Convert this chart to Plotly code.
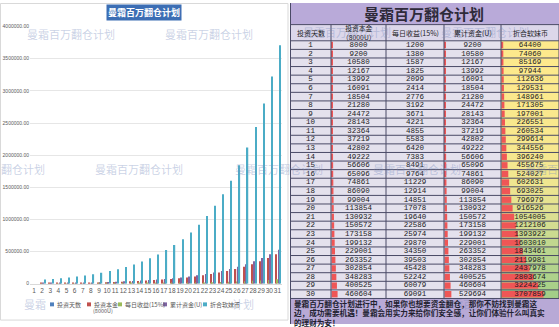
import plotly.graph_objects as go

# ---------------- data ----------------
days = [1, 2, 3, 4, 5, 6, 7, 8, 9, 10, 11, 12, 13, 14, 15,
        16, 17, 18, 19, 20, 21, 22, 23, 24, 25, 26, 27, 28, 29, 30]
principal = [8000, 9200, 10580, 12167, 13992, 16091, 18504, 21280, 24472, 28143,
             32364, 37219, 42802, 49222, 56606, 65096, 74861, 86090, 99004, 113854,
             130932, 150572, 173158, 199132, 229001, 263352, 302854, 348283, 400525, 460604]
daily = [1200, 1380, 1587, 1825, 2099, 2414, 2776, 3192, 3671, 4221,
         4855, 5583, 6420, 7383, 8491, 9764, 11229, 12914, 14851, 17078,
         19640, 22586, 25974, 29870, 34350, 39503, 45428, 52242, 60079, 69091]
cumulative = [9200, 10580, 12167, 13992, 16091, 18504, 21280, 24472, 28143, 32364,
              37219, 42802, 49222, 56606, 65096, 74861, 86090, 99004, 113854, 130932,
              150572, 173158, 199132, 229001, 263352, 302854, 348283, 400525, 460604, 529694]
rmb = [64400, 74060, 85169, 97944, 112636, 129531, 148961, 171305, 197001, 226551,
       260534, 299614, 344556, 396240, 455675, 524027, 602631, 693025, 796979, 916526,
       1054005, 1212106, 1393922, 1603010, 1843461, 2119981, 2437978, 2803674, 3224225, 3707859]

x_labels = ['1', '2', '3', '4', '5', '6', '7', '8', '9', '10', '11', '12', '13', '14', '15', '16',
            '17', '18', '19', '20', '21', '22', '23', '24', '25', '26', '27', '28', '29', '30', '31']
y_tickvals = [0, 500000, 1000000, 1500000, 2000000, 2500000, 3000000, 3500000, 4000000]
y_ticktext = ['0', '500000.00', '1000000.00', '1500000.00', '2000000.00',
              '2500000.00', '3000000.00', '3500000.00', '4000000.00']
legend_names = ['投资天数', '投资本金', '每日收益(15%)', '累计资金(U)', '折合软妹币']
legend_sub = ['', '(8000U)', '', '', '']
table_headers = ['投资天数', '投资本金<br>（8000U）', '每日收益(15%)', '累计资金(U)', '折合软妹币']
title_text = '曼霜百万翻仓计划'
footer_lines = ['曼霜百万翻仓计划进行中，如果你也想要资金翻仓，那你不妨找到曼霜这',
                '边，成功需要机遇！曼霜会用实力来给你们安全感，让你们体验什么叫真实',
                '的理财为安！']

# ---------------- layout helpers ----------------
W, H = 559, 327
def px(x):
    return x / W
def py(y):
    return 1 - y / H

CJK = 'Noto Sans CJK SC'
colors = ['#4f81bd', '#c0504d', '#9bbb59', '#8064a2', '#4bacc6']

fig = go.Figure()

# ---------------- bar chart ----------------
chart_series = [days, principal, daily, cumulative, rmb]
for name, vals, c in zip(legend_names, chart_series, colors):
    fig.add_trace(go.Bar(x=x_labels, y=[None] + vals, name=name, marker_color=c,
                         marker_line_width=0, xaxis='x', yaxis='y', hoverinfo='skip'))

# ---------------- table ----------------
col_edges = [290, 331, 386, 444, 501, 559]
row_top, row_h = 38.5, 8.75
n = len(days)
row_edges = [row_top + i * row_h for i in range(n + 1)]
row_centers = [row_top + (i + 0.5) * row_h for i in range(n)]
col_centers = [(col_edges[i] + col_edges[i + 1]) / 2 for i in range(5)]

# colour-scale background of last column
fig.add_trace(go.Heatmap(x=[col_edges[4], col_edges[5]], y=row_edges,
                         z=[[v] for v in rmb],
                         colorscale=[[0, '#fde98c'], [0.12, '#f3e790'], [0.28, '#dadf92'],
                                     [0.45, '#bcd68e'], [1, '#a3ce88']],
                         showscale=False, xaxis='x2', yaxis='y2', hoverinfo='skip'))

# data bars (columns 2, 4, 5 share one scale)
vmax = max(rmb)
bar_x, bar_y, bar_base = [], [], []
for ci, vals in [(1, principal), (3, cumulative), (4, rmb)]:
    for i, v in enumerate(vals):
        bar_x.append(1 + v / vmax * 41)
        bar_y.append(row_centers[i])
        bar_base.append(col_edges[ci] + 0.5)
fig.add_trace(go.Bar(x=bar_x, y=bar_y, base=bar_base, orientation='h', width=row_h - 2.2,
                     marker_color='#ef5656', marker_line_width=0, xaxis='x2', yaxis='y2',
                     hoverinfo='skip', showlegend=False))

# cell texts
for ci, vals in enumerate([days, principal, daily, cumulative, rmb]):
    fig.add_trace(go.Scatter(x=[col_centers[ci]] * n, y=row_centers, mode='text',
                             text=[str(v) for v in vals],
                             textfont=dict(family='Liberation Mono', size=7.5, color='#1c1c24'),
                             xaxis='x2', yaxis='y2', hoverinfo='skip', showlegend=False))

shapes = []
def rect(x0, y0, x1, y1, fill, layer='below'):
    shapes.append(dict(type='rect', xref='x2', yref='y2', x0=x0, x1=x1, y0=y0, y1=y1,
                       fillcolor=fill, layer=layer, line=dict(width=0)))

# table backgrounds
rect(290, 0, 559, 22, '#b9aad9')
rect(290, 22, 559, 38.5, '#dcd7ea')
rect(290, 38.5, 501, 301, '#e4e1ed')
rect(290, 301, 559, 327, '#b8a9d6')
# table lines
line_col = '#4a4a66'
for y in [22] + row_edges:
    shapes.append(dict(type='line', xref='x2', yref='y2', x0=290, x1=559, y0=y, y1=y,
                       line=dict(color=line_col, width=1), layer='above'))
for x in col_edges:
    shapes.append(dict(type='line', xref='x2', yref='y2', x0=x, x1=x, y0=22, y1=301,
                       line=dict(color=line_col, width=1), layer='above'))
shapes.append(dict(type='line', xref='x2', yref='y2', x0=290.5, x1=290.5, y0=0, y1=327,
                   line=dict(color=line_col, width=1), layer='above'))

# chart panel border
shapes.append(dict(type='rect', xref='paper', yref='paper', x0=px(0.5), x1=px(288),
                   y0=py(323), y1=py(0.5), line=dict(color='#d9d9d9', width=1),
                   fillcolor='rgba(0,0,0,0)', layer='below'))

annotations = []
def ann(x, y, text, font, xanchor='center', **kw):
    d = dict(x=px(x), y=py(y), xref='paper', yref='paper', text=text, showarrow=False,
             xanchor=xanchor, yanchor='middle', font=font)
    d.update(kw)
    annotations.append(d)

# watermarks
wm_font = dict(family=CJK, size=11, color='rgba(120,140,190,0.40)')
wm_pos = [(71, 32), (209, 32), (347, 30), (485, 30),
          (139, 169), (279, 169), (417, 169),
          (485, 307)]
for (x, y) in wm_pos:
    ann(x, y, title_text, wm_font)
ann(23, 169, '翻仓计划', wm_font)
ann(541, 169, '曼霜百', wm_font)
ann(35, 307, '曼霜', wm_font)
ann(243, 307, '计划', wm_font)

# chart title
ann(144, 10, '<b>' + title_text + '</b>', dict(family=CJK, size=9, color='white'),
    bgcolor='#3c6eb4', borderpad=1)

# manual legend
leg_x = [50, 87, 118, 163, 203]
for i, (name, sub) in enumerate(zip(legend_names, legend_sub)):
    x = leg_x[i]
    shapes.append(dict(type='rect', xref='paper', yref='paper', x0=px(x), x1=px(x + 4),
                       y0=py(309), y1=py(305), fillcolor=colors[i], line=dict(width=0)))
    ann(x + 5, 307, name, dict(family=CJK, size=6, color='#595959'), xanchor='left')
    if sub:
        ann(x + 16, 313.5, sub, dict(family=CJK, size=5.5, color='#595959'))

# table title
ann(424, 11, '<b>' + title_text + '</b>', dict(family=CJK, size=15, color='#2e2a3a'))
# table headers
for i, h in enumerate(table_headers):
    annotations.append(dict(x=col_centers[i], y=30.2, xref='x2', yref='y2', text=h,
                            showarrow=False, xanchor='center', yanchor='middle',
                            font=dict(family=CJK, size=7 if '<br>' not in h else 6.8,
                                      color='#1c1c24')))
# footer
for line, y in zip(footer_lines, [306, 315.5, 325]):
    ann(292, y, '<b>' + line + '</b>', dict(family=CJK, size=7.6, color='#222230'),
        xanchor='left')

fig.update_layout(
    width=W, height=H, margin=dict(l=0, r=0, t=0, b=0),
    paper_bgcolor='white', plot_bgcolor='rgba(0,0,0,0)',
    showlegend=False, barmode='group', bargap=0.2, bargroupgap=0,
    xaxis=dict(domain=[px(30), px(281.5)], type='category', showgrid=False,
               showline=True, linecolor='#d9d9d9', linewidth=1, ticks='', tickangle=0,
               tickfont=dict(family='Liberation Sans', size=6.5, color='#595959'),
               anchor='y', fixedrange=True),
    yaxis=dict(domain=[py(286), py(24)], range=[0, 4000000], tickvals=y_tickvals,
               ticktext=y_ticktext, showgrid=True, gridcolor='#e6e6e6', gridwidth=1,
               zeroline=False, showline=False, ticks='',
               tickfont=dict(family='Liberation Sans', size=5, color='#595959'),
               anchor='x', fixedrange=True),
    xaxis2=dict(domain=[px(290), 1], range=[290, 559], visible=False, anchor='y2', fixedrange=True),
    yaxis2=dict(domain=[0, 1], range=[327, 0], visible=False, anchor='x2', fixedrange=True),
    shapes=shapes, annotations=annotations,
)

fig.write_html('out.html')
